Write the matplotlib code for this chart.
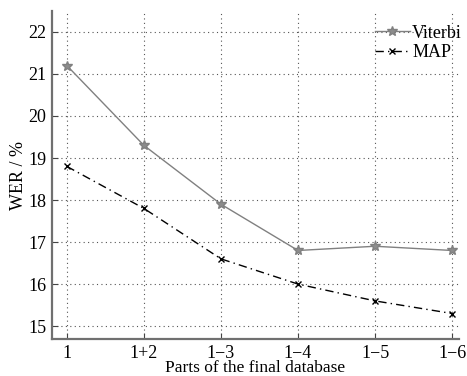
import matplotlib
matplotlib.use("Agg")
import matplotlib.pyplot as plt

categories = ["1", "1+2", "1\u22123", "1\u22124", "1\u22125", "1\u22126"]
viterbi = [21.2, 19.3, 17.9, 16.8, 16.9, 16.8]
map_wer = [18.8, 17.8, 16.6, 16.0, 15.6, 15.3]

plt.rcParams["font.family"] = ["Liberation Serif", "DejaVu Serif"]

fig = plt.figure(figsize=(4.67, 3.76), dpi=100)
ax = fig.add_axes([0.111, 0.098, 0.872, 0.873])

x = list(range(len(categories)))
ax.plot(x, viterbi, color="#808080", lw=1.0, marker="*", ms=7,
        mfc="#8c8c8c", mec="#808080", label="Viterbi")
ax.plot(x, map_wer, color="black", lw=1.0, ls=(0, (6, 3, 1, 3)), marker="x",
        ms=4.5, mew=1.0, label="MAP")

ax.set_xlim(-0.195, 5.09)
ax.set_ylim(14.69, 22.5)
ax.set_xticks(x)
ax.set_xticklabels(categories)
ax.set_yticks(range(15, 23))

ax.grid(True, ls=(0, (1, 3)), color="#555555", lw=0.8)
ax.tick_params(direction="in", length=4, labelsize=13, color="#444444")
ax.tick_params(axis="y", pad=4)
ax.tick_params(axis="x", pad=4)
for side in ["top", "right"]:
    ax.spines[side].set_visible(False)
for side in ["left", "bottom"]:
    ax.spines[side].set_color("#707070")
    ax.spines[side].set_linewidth(1.6)

ax.set_xlabel("Parts of the final database", fontsize=12.5, labelpad=-1)
ax.set_ylabel("WER / %", fontsize=13, labelpad=1)

ax.legend(loc="upper right", frameon=False, fontsize=13, handlelength=1.9,
          handletextpad=0.15, borderaxespad=0.0, labelspacing=0.15,
          bbox_to_anchor=(1.025, 0.98))

fig.savefig("out.png", dpi=100)
